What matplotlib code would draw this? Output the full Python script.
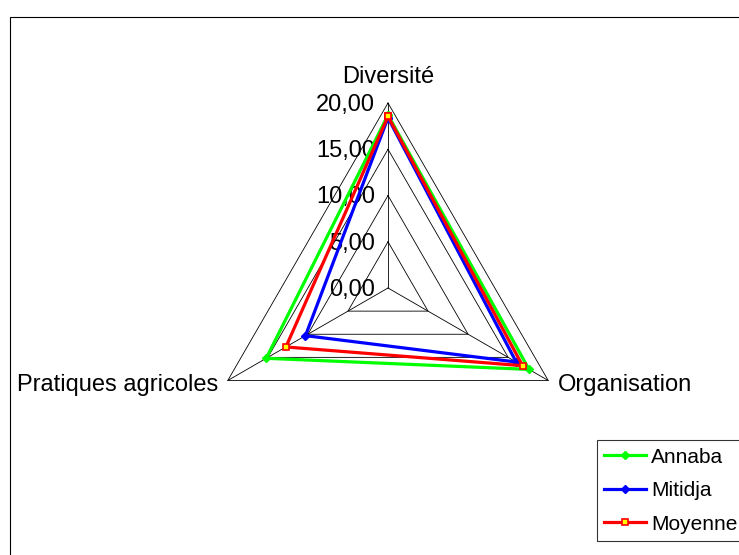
import numpy as np
import matplotlib
matplotlib.use('Agg')
import matplotlib.pyplot as plt
from matplotlib.patches import Rectangle

plt.rcParams['font.family'] = ['Liberation Sans', 'DejaVu Sans']

# Données
axes_noms = ['Diversité', 'Organisation', 'Pratiques agricoles']
annaba = [18.7, 17.6, 15.2]
mitidja = [18.4, 16.0, 10.3]
moyenne = [18.55, 16.8, 12.75]
niveaux = [0, 5, 10, 15, 20]
etiquettes = ['0,00', '5,00', '10,00', '15,00', '20,00']

# angles : Diversité en haut, puis sens horaire
angles = np.pi / 2 - np.arange(3) * 2 * np.pi / 3


def vers_xy(valeurs):
    v = np.array(list(valeurs) + [valeurs[0]])
    a = np.append(angles, angles[0])
    return v * np.cos(a), v * np.sin(a)


W, H = 739, 555
fig = plt.figure(figsize=(W / 100, H / 100), dpi=100)
ax = fig.add_axes([0, 0, 1, 1])
px = 20 / 185.0  # unités par pixel
cx, cy = 388, 288
ax.set_xlim(-cx * px, (W - cx) * px)
ax.set_ylim(-(H - cy) * px, cy * px)
ax.set_aspect('equal')
ax.axis('off')

# cadre du graphique
fig.patches.append(Rectangle((10 / W, -0.1), 1.2, (H - 17) / H + 0.1, transform=fig.transFigure,
                             fill=False, edgecolor='black', linewidth=0.8))

# grille triangulaire
for n in niveaux[1:]:
    gx, gy = vers_xy([n] * 3)
    ax.plot(gx, gy, color='black', linewidth=0.6, zorder=1)
for a in angles:
    ax.plot([0, 20 * np.cos(a)], [0, 20 * np.sin(a)], color='black', linewidth=0.6, zorder=1)

# étiquettes de l'échelle
for n, t in zip(niveaux, etiquettes):
    ax.text(-13 * px, n - 0.2, t, ha='right', va='center', fontsize=17)

# noms des axes
ax.text(0, 20 + 1.6, axes_noms[0], ha='center', va='bottom', fontsize=17)
r = 20 * np.cos(np.pi / 6)
ax.text(r + 1.0, -10 - 0.5, axes_noms[1], ha='left', va='center', fontsize=17)
ax.text(-r - 1.0, -10 - 0.5, axes_noms[2], ha='right', va='center', fontsize=17)

x, y = vers_xy(annaba)
ax.plot(x, y, color='#00FF00', linewidth=2.3, marker='D', markersize=4, label='Annaba', zorder=3)
x, y = vers_xy(mitidja)
ax.plot(x, y, color='#0000FF', linewidth=2.3, marker='D', markersize=4, label='Mitidja', zorder=4)
x, y = vers_xy(moyenne)
ax.plot(x, y, color='#FF0000', linewidth=2.3, marker='s', markersize=5, markerfacecolor='#FFFF00',
        markeredgecolor='#FF0000', markeredgewidth=1.2, label='Moyenne', zorder=5)

leg = ax.legend(loc='lower left', bbox_to_anchor=(597 / W, 1 - 541 / H), bbox_transform=fig.transFigure,
                borderaxespad=0, fontsize=15, frameon=True, fancybox=False, edgecolor='black',
                handlelength=2.0, handletextpad=0.25, labelspacing=0.7, borderpad=0.35)
leg.get_frame().set_linewidth(0.8)

fig.savefig('out.png', dpi=100)
